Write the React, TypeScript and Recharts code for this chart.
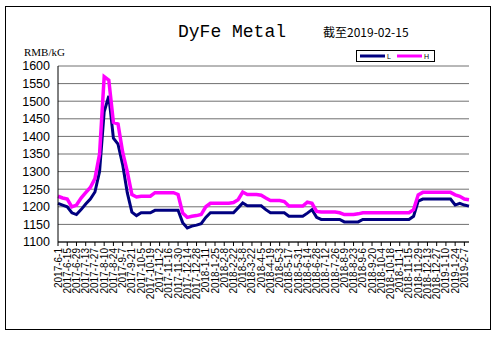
import React from "react";
import { LineChart, Line, XAxis, YAxis, CartesianGrid } from "recharts";

// weekly observations, 2017-6-1 .. 2019-2-14
const dates = [
  "2017-6-1", "2017-6-8", "2017-6-15", "2017-6-22", "2017-6-29", "2017-7-6", "2017-7-13", "2017-7-20", "2017-7-27",
  "2017-8-3", "2017-8-10", "2017-8-17", "2017-8-24", "2017-8-31", "2017-9-7", "2017-9-14", "2017-9-21", "2017-9-28",
  "2017-10-5", "2017-10-12", "2017-10-19", "2017-10-26", "2017-11-2", "2017-11-9", "2017-11-16", "2017-11-23",
  "2017-11-30", "2017-12-7", "2017-12-14", "2017-12-21", "2017-12-28",
  "2018-1-4", "2018-1-11", "2018-1-18", "2018-1-25", "2018-2-1", "2018-2-8", "2018-2-15", "2018-2-22", "2018-3-1",
  "2018-3-8", "2018-3-15", "2018-3-22", "2018-3-29", "2018-4-5", "2018-4-12", "2018-4-19", "2018-4-26", "2018-5-3",
  "2018-5-10", "2018-5-17", "2018-5-24", "2018-5-31", "2018-6-7", "2018-6-14", "2018-6-21", "2018-6-28", "2018-7-5",
  "2018-7-12", "2018-7-19", "2018-7-26", "2018-8-2", "2018-8-9", "2018-8-16", "2018-8-23", "2018-8-30", "2018-9-6",
  "2018-9-13", "2018-9-20", "2018-9-27", "2018-10-4", "2018-10-11", "2018-10-18", "2018-10-25", "2018-11-1",
  "2018-11-8", "2018-11-15", "2018-11-22", "2018-11-29", "2018-12-6", "2018-12-13", "2018-12-20", "2018-12-27",
  "2019-1-3", "2019-1-10", "2019-1-17", "2019-1-24", "2019-1-31", "2019-2-7", "2019-2-14",
];

const lowPrices = [
  1210, 1205, 1200, 1183, 1178, 1192, 1208, 1222, 1242, 1300,
  1470, 1515, 1395, 1378, 1320, 1240, 1185, 1175, 1183, 1183,
  1183, 1190, 1190, 1190, 1190, 1190, 1190, 1155, 1140, 1145,
  1148, 1152, 1170, 1183, 1183, 1183, 1183, 1183, 1183, 1197,
  1211, 1203, 1203, 1203, 1203, 1192, 1183, 1183, 1183, 1183,
  1173, 1173, 1173, 1173, 1182, 1192, 1170, 1164, 1164, 1164,
  1164, 1164, 1157, 1157, 1157, 1157, 1164, 1164, 1164, 1164,
  1164, 1164, 1164, 1164, 1164, 1164, 1164, 1173, 1216, 1222,
  1222, 1222, 1222, 1222, 1222, 1222, 1205, 1210, 1205, 1202,
];

const highPrices = [
  1230, 1225, 1222, 1200, 1205, 1225, 1240, 1255, 1280, 1350,
  1570, 1560, 1440, 1435, 1355, 1300, 1235, 1228, 1230, 1230,
  1230, 1240, 1240, 1240, 1240, 1240, 1235, 1182, 1170, 1173,
  1175, 1178, 1200, 1210, 1210, 1210, 1210, 1210, 1212, 1220,
  1242, 1235, 1235, 1235, 1233, 1225, 1218, 1218, 1218, 1215,
  1202, 1202, 1202, 1202, 1213, 1210, 1187, 1185, 1185, 1185,
  1185, 1183, 1178, 1178, 1178, 1180, 1183, 1183, 1183, 1183,
  1183, 1183, 1183, 1183, 1183, 1183, 1183, 1192, 1234, 1241,
  1241, 1241, 1241, 1241, 1241, 1241, 1234, 1230, 1222, 1220,
];

const yTicks = [1100, 1150, 1200, 1250, 1300, 1350, 1400, 1450, 1500, 1550, 1600];

const data = dates.map((d, i) => ({ d, L: lowPrices[i], H: highPrices[i] }));

function DateTick({ x, y, payload }: any) {
  return (
    <text
      x={x}
      y={y}
      transform={`rotate(-90 ${x} ${y})`}
      textAnchor="end"
      dy="0.35em"
      fontSize={10}
      fontFamily="Liberation Sans"
      fill="#000"
    >
      {payload.value}
    </text>
  );
}

export default function App() {
  return (
    <div style={{ position: "absolute", left: 0, top: 0, width: 497, height: 337, background: "#fff" }}>
      <div style={{ position: "absolute", left: 5, top: 6, width: 486, height: 324, border: "1px solid #000", boxSizing: "border-box" }} />
      <LineChart width={497} height={337} data={data} margin={{ top: 66, right: 28, bottom: 0, left: 0 }}>
        <CartesianGrid vertical={false} stroke="#707070" strokeWidth={1} />
        <XAxis
          dataKey="d"
          interval={1}
          height={95}
          tickSize={4}
          tickMargin={2}
          axisLine={{ stroke: "#000" }}
          tickLine={{ stroke: "#000" }}
          tick={<DateTick />}
        />
        <YAxis
          width={58}
          domain={[1100, 1600]}
          ticks={yTicks}
          interval={0}
          tickLine={false}
          axisLine={{ stroke: "#000" }}
          tick={{ fontSize: 12.5, fontFamily: "Liberation Sans", fill: "#000" }}
        />
        <YAxis yAxisId="r" orientation="right" width={0} domain={[1100, 1600]} tick={false} tickLine={false} axisLine={{ stroke: "#808080" }} />
        <Line type="linear" dataKey="L" stroke="#000080" strokeWidth={3} dot={false} isAnimationActive={false} />
        <Line type="linear" dataKey="H" stroke="#FF00FF" strokeWidth={3.5} dot={false} isAnimationActive={false} />
      </LineChart>
      <svg width={497} height={337} style={{ position: "absolute", left: 0, top: 0, pointerEvents: "none" }}>
        <text x={232} y={37} textAnchor="middle" fontSize={18} fontFamily="Liberation Mono" fill="#000">DyFe Metal</text>
        <text x={323} y={37} fontSize={12} fontFamily="Noto Sans CJK SC" fill="#000">截至2019-02-15</text>
        <text x={24} y={56} fontSize={11} fontFamily="Liberation Serif" fill="#000">RMB/kG</text>
        <rect x={356.5} y={50.5} width={78} height={11} fill="#fff" stroke="#000" strokeWidth={1} />
        <line x1={360} y1={56} x2={385} y2={56} stroke="#000080" strokeWidth={3} />
        <text x={387} y={59} fontSize={7} fontFamily="Liberation Sans" fill="#000">L</text>
        <line x1={397} y1={56} x2={422} y2={56} stroke="#FF00FF" strokeWidth={3} />
        <text x={424} y={59} fontSize={7} fontFamily="Liberation Sans" fill="#000">H</text>
      </svg>
    </div>
  );
}
